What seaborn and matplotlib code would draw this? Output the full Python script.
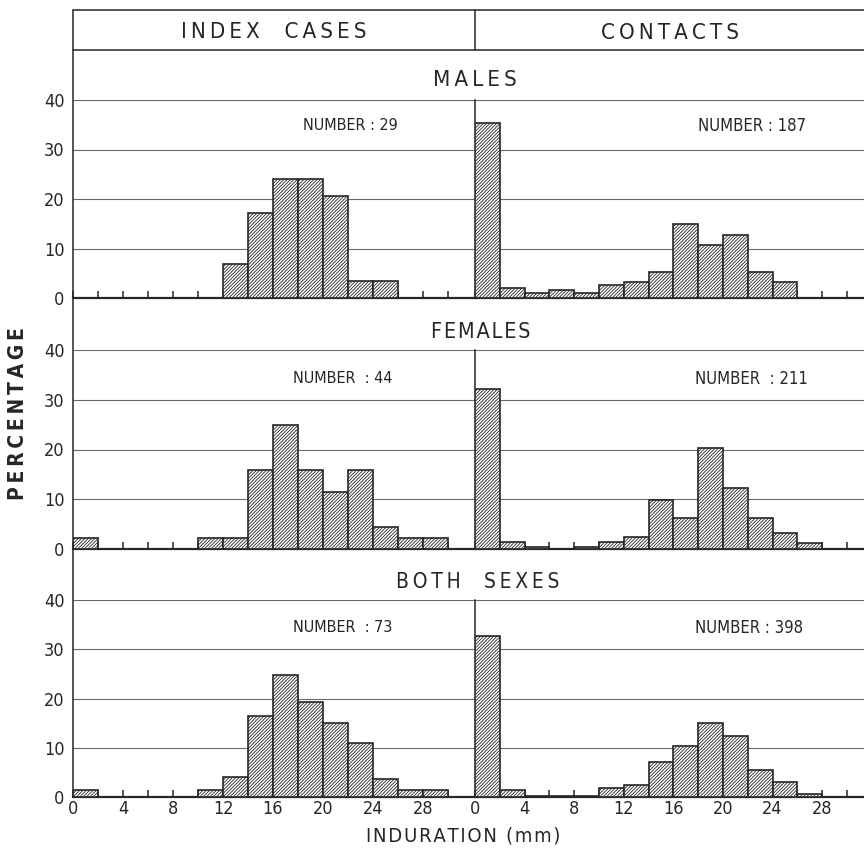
import numpy as np
import pandas as pd
import matplotlib
matplotlib.use("Agg")
import matplotlib.pyplot as plt
from matplotlib.lines import Line2D
import seaborn as sns

# ---------------- data (percentages per 2-mm induration class) ----------------
bins = [0, 2, 4, 6, 8, 10, 12, 14, 16, 18, 20, 22, 24, 26, 28]
index_males = [0, 0, 0, 0, 0, 0, 6.9, 17.2, 24.1, 24.1, 20.7, 3.4, 3.4, 0, 0]
contacts_males = [35.3, 2.1, 1.1, 1.6, 1.1, 2.7, 3.2, 5.3, 15.0, 10.7, 12.8, 5.3, 3.2, 0, 0]
index_females = [2.3, 0, 0, 0, 0, 2.3, 2.3, 15.9, 25.0, 15.9, 11.4, 15.9, 4.5, 2.3, 2.3]
contacts_females = [32.2, 1.4, 0.5, 0, 0.5, 1.4, 2.4, 9.9, 6.2, 20.4, 12.3, 6.2, 3.3, 1.2, 0]
index_both = [1.4, 0, 0, 0, 0, 1.4, 4.1, 16.4, 24.7, 19.2, 15.1, 11.0, 3.7, 1.4, 1.4]
contacts_both = [32.7, 1.5, 0.3, 0.3, 0.3, 1.8, 2.4, 7.1, 10.3, 15.1, 12.3, 5.4, 3.1, 0.7, 0]

row_titles = ["MALES", "FEMALES", "BOTH  SEXES"]
col_titles = ["INDEX  CASES", "CONTACTS"]
numbers = [["NUMBER : 29", "NUMBER : 187"],
           ["NUMBER  : 44", "NUMBER  : 211"],
           ["NUMBER  : 73", "NUMBER : 398"]]
xtick_vals = [0, 4, 8, 12, 16, 20, 24, 28]
ytick_vals = [0, 10, 20, 30, 40]

series = [[index_males, contacts_males],
          [index_females, contacts_females],
          [index_both, contacts_both]]

# ---------------- style ----------------
sns.set_style("white")
plt.rcParams["font.family"] = ["DejaVu Sans"]
plt.rcParams["font.stretch"] = "condensed"
plt.rcParams["hatch.linewidth"] = 0.6
INK = "#262626"
GRID = "#6a6a6a"

W, H = 864, 850
fig = plt.figure(figsize=(W / 100, H / 100), dpi=100)

def fx(px):
    return px / W

def fy(py):
    return 1 - py / H

def spaced(s, sep="\u2009"):
    return sep.join(s)

row_top = [100, 350, 600]
row_zero = [298, 549, 797]
col_x = [(73, 475), (475, 864)]
col_xmax = [32.16, 31.37]

for r in range(3):
    for c in range(2):
        x0, x1 = col_x[c]
        ax = fig.add_axes([fx(x0), fy(row_zero[r]), fx(x1) - fx(x0),
                           fy(row_top[r]) - fy(row_zero[r])])
        df = pd.DataFrame({"induration": bins, "pct": series[r][c]})
        sns.histplot(data=df, x="induration", weights="pct",
                     binwidth=2, binrange=(0, 30), ax=ax,
                     color="white", edgecolor=INK, linewidth=1.2,
                     hatch="//////////", alpha=1, zorder=3)
        ax.set_xlim(0, col_xmax[c])
        ax.set_ylim(0, 40)
        ax.set_xlabel("")
        ax.set_ylabel("")
        for side in ["top", "right"]:
            ax.spines[side].set_visible(False)
        ax.spines["left"].set_visible(c == 1)
        ax.spines["left"].set_color(INK)
        ax.spines["left"].set_linewidth(1.1)
        ax.spines["bottom"].set_color(INK)
        ax.spines["bottom"].set_linewidth(1.6)
        ax.set_yticks(ytick_vals)
        ax.yaxis.grid(True, color=GRID, linewidth=0.8)
        ax.set_axisbelow(True)
        ax.set_xticks(np.arange(0, 31, 2))
        ax.tick_params(axis="x", bottom=True, direction="in", length=5, width=1.1,
                       color=INK, pad=2)
        if r == 2:
            ax.set_xticklabels([str(v) if v in xtick_vals else "" for v in np.arange(0, 31, 2)],
                               fontsize=13, color=INK)
        else:
            ax.set_xticklabels([])
        if c == 0:
            ax.tick_params(axis="y", length=0, pad=6, labelsize=13, labelcolor=INK)
        else:
            ax.tick_params(axis="y", length=0, labelleft=False)
        ax.patch.set_alpha(0)

        # number annotation
        nx = [303, 698][c] if r == 0 else [293, 695][c]
        ny = [126, 379, 628][r]
        fig.text(fx(nx), fy(ny), numbers[r][c], fontsize=[11.5, 12][c], color=INK,
                 ha="left", va="center")

# frame lines
lines = [
    ((73, 73), (10, 797)),      # left border
    ((73, 864), (10, 10)),      # header top
    ((73, 864), (50, 50)),      # header bottom
    ((475, 475), (10, 50)),     # header divider
]
for (xs, ys) in lines:
    fig.add_artist(Line2D([fx(xs[0]), fx(xs[1])], [fy(ys[0]), fy(ys[1])],
                          color=INK, linewidth=1.1, transform=fig.transFigure))

# header & row titles
fig.text(fx(274), fy(32), spaced(col_titles[0]), fontsize=16, color=INK, ha="center", va="center")
fig.text(fx(670), fy(33), spaced(col_titles[1]), fontsize=16, color=INK, ha="center", va="center")
fig.text(fx(475), fy(80), spaced(row_titles[0]), fontsize=16, color=INK, ha="center", va="center")
fig.text(fx(481), fy(332), spaced(row_titles[1], "\u200a"), fontsize=15.5, color=INK,
         ha="center", va="center")
fig.text(fx(478), fy(582), spaced(row_titles[2]), fontsize=15, color=INK, ha="center", va="center")

fig.text(fx(18), fy(414), spaced("PERCENTAGE"), fontsize=15, color=INK, rotation=90,
         ha="center", va="center", fontweight="bold")
fig.text(fx(463), fy(836), spaced("INDURATION (mm)", "\u200a"), fontsize=14.5, color=INK,
         ha="center", va="center")

fig.savefig("out.png", dpi=100)
